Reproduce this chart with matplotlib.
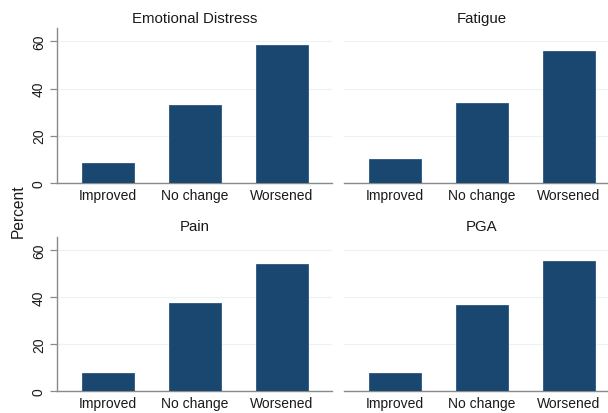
import matplotlib
matplotlib.use("Agg")
import matplotlib.pyplot as plt

plt.rcParams['font.family'] = ['Liberation Sans', 'DejaVu Sans']

categories = ["Improved", "No change", "Worsened"]
panel_titles = ["Emotional Distress", "Fatigue", "Pain", "PGA"]
emotional_distress = [8.4, 33.1, 58.6]
fatigue = [10.0, 34.0, 55.9]
pain = [7.6, 37.6, 54.2]
pga = [7.9, 36.6, 55.3]
y_ticks = [0, 20, 40, 60]

series = [emotional_distress, fatigue, pain, pga]

W, H = 608, 414
fig = plt.figure(figsize=(W / 100, H / 100), dpi=100)
fig.patch.set_facecolor("white")

# panel boxes in pixel units: (left, top, right, bottom)
boxes = [
    (57, 29.3, 332, 183.7),
    (344, 29.3, 619, 183.7),
    (57, 237.7, 332, 392.3),
    (344, 237.7, 619, 392.3),
]

bar_color = "#1a476f"
axis_color = "#8a8a8a"
grid_color = "#edf2f4"
text_color = "#1a1a1a"
tick_fs = 10.0
title_fs = 10.8

for i, (title, vals, box) in enumerate(zip(panel_titles, series, boxes)):
    l, t, r, b = box
    ax = fig.add_axes([l / W, 1 - b / H, (r - l) / W, (b - t) / H])
    ax.set_facecolor("white")
    x = range(len(categories))
    ax.bar(x, vals, width=0.6, color=bar_color, edgecolor="#2a5680", linewidth=0.6, zorder=3)
    ax.set_xlim(-0.59, 2.58)
    ax.set_ylim(0, 65.6)
    ax.set_yticks(y_ticks)
    ax.set_xticks(list(x))
    ax.set_xticklabels(categories, fontsize=tick_fs, color=text_color)
    ax.tick_params(axis="x", length=0, pad=3.5)
    ax.grid(axis="y", color=grid_color, linewidth=0.9, zorder=0)
    ax.set_axisbelow(True)
    for s in ("top", "right"):
        ax.spines[s].set_visible(False)
    ax.spines["bottom"].set_color(axis_color)
    ax.spines["bottom"].set_linewidth(1.0)
    if i % 2 == 0:
        ax.spines["left"].set_color(axis_color)
        ax.spines["left"].set_linewidth(1.0)
        ax.tick_params(axis="y", length=5, width=0.9, color=axis_color, pad=3, labelsize=tick_fs,
                       labelcolor=text_color)
        for lab in ax.get_yticklabels():
            lab.set_rotation(90)
            lab.set_va("center")
    else:
        ax.spines["left"].set_visible(False)
        ax.tick_params(axis="y", length=0, labelleft=False)
    ax.set_title(title, fontsize=title_fs, color=text_color, pad=4.5)

fig.text(18 / W, 1 - 211 / H, "Percent", rotation=90, ha="center", va="center",
         fontsize=11.2, color=text_color)

fig.savefig("out.png", dpi=100, facecolor="white")
